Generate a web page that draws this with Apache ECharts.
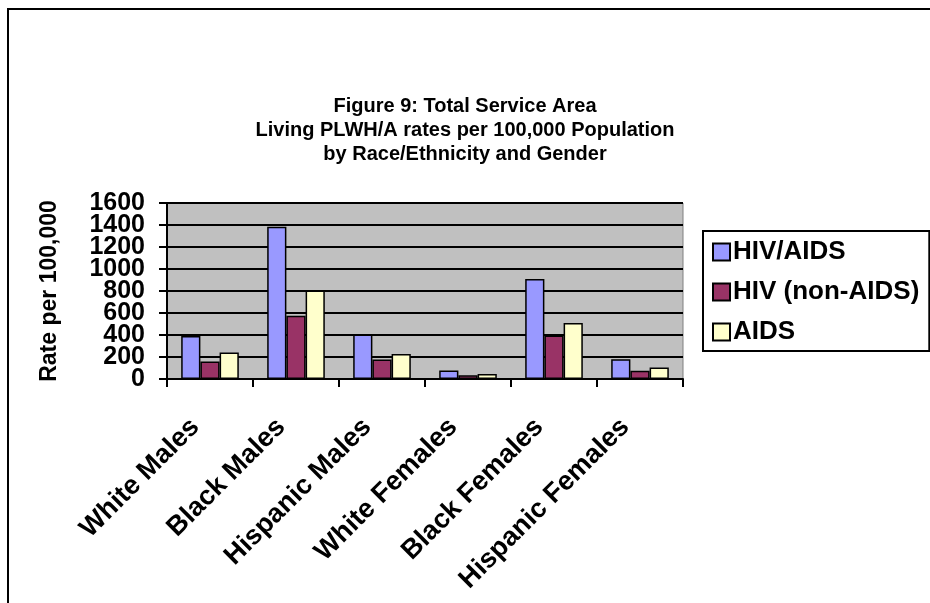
<!DOCTYPE html>
<html>
<head>
<meta charset="utf-8">
<script src="https://cdn.jsdelivr.net/npm/echarts@6/dist/echarts.min.js"></script>
<style>
html,body{margin:0;padding:0;background:#fff;}
#chart{width:930px;height:603px;}
</style>
</head>
<body>
<div id="chart"></div>
<script>
var categories = ['White Males', 'Black Males', 'Hispanic Males', 'White Females', 'Black Females', 'Hispanic Females'];
var seriesNames = ['HIV/AIDS', 'HIV (non-AIDS)', 'AIDS'];
var hivAids = [390, 1385, 405, 78, 910, 180];
var hivNonAids = [158, 575, 178, 33, 395, 75];
var aids = [240, 805, 228, 45, 508, 105];
var yTicks = [0, 200, 400, 600, 800, 1000, 1200, 1400, 1600];

var FONT = "'Liberation Sans', Arial, sans-serif";
var colors = ['#9999FF', '#993366', '#FFFFCC'];
var values = [hivAids, hivNonAids, aids];

// Tick labels are split across two overlaid axes (even / odd steps) so
// that the crowded labels are not dropped by overlap hiding.
function tickLabel(parity) {
  return function (v) {
    var idx = yTicks.indexOf(v);
    return (idx >= 0 && idx % 2 === parity) ? String(v) : '';
  };
}
var yLabelStyle = {
  margin: 22,
  showMinLabel: true, showMaxLabel: true, hideOverlap: false,
  fontFamily: FONT, fontWeight: 'bold', fontSize: 25, color: '#000'
};

var chart = echarts.init(document.getElementById('chart'), null, {renderer: 'canvas'});
chart.setOption({
  animation: false,
  backgroundColor: '#ffffff',
  title: {
    text: 'Figure 9: Total Service Area\nLiving PLWH/A rates per 100,000 Population\nby Race/Ethnicity and Gender',
    left: 'center',
    top: 89,
    textStyle: {fontFamily: FONT, fontWeight: 'bold', fontSize: 20, lineHeight: 24, color: '#000', align: 'center'}
  },
  graphic: [{
    type: 'rect',
    shape: {x: 8, y: 9, width: 960, height: 640},
    style: {fill: 'none', stroke: '#000', lineWidth: 2},
    silent: true
  }],
  legend: {
    orient: 'vertical',
    left: 703,
    top: 231,
    padding: [8, 10, 6, 9],
    itemWidth: 17,
    itemHeight: 17,
    itemGap: 14,
    icon: 'rect',
    borderColor: '#000',
    borderWidth: 2,
    backgroundColor: '#fff',
    textStyle: {fontFamily: FONT, fontWeight: 'bold', fontSize: 26, lineHeight: 26, color: '#000', padding: [0, 0, 0, -2]},
    data: seriesNames
  },
  grid: {
    left: 167, top: 203, width: 516, height: 176,
    show: true, backgroundColor: '#C0C0C0', borderColor: '#808080', borderWidth: 1,
    containLabel: false
  },
  xAxis: {
    type: 'category',
    data: categories,
    axisLine: {lineStyle: {color: '#000', width: 2}},
    axisTick: {show: true, length: 8, lineStyle: {color: '#000', width: 2}},
    axisLabel: {
      interval: 0, rotate: 45, margin: 29,
      fontFamily: FONT, fontWeight: 'bold', fontSize: 27, color: '#000',
      formatter: function (v) { return '{a|' + v + '}'; },
      rich: {a: {fontFamily: FONT, fontWeight: 'bold', fontSize: 27, color: '#000', padding: [0, 21, 0, 0]}}
    },
    splitLine: {show: false}
  },
  yAxis: [{
    type: 'value',
    min: 0, max: 1600, interval: 200,
    name: 'Rate per 100,000',
    nameLocation: 'middle',
    nameRotate: 90,
    nameGap: 106,
    nameTextStyle: {fontFamily: FONT, fontWeight: 'bold', fontSize: 23, color: '#000'},
    axisLine: {show: true, lineStyle: {color: '#000', width: 2}},
    axisTick: {show: true, length: 8, lineStyle: {color: '#000', width: 2}},
    axisLabel: Object.assign({formatter: tickLabel(0)}, yLabelStyle),
    splitLine: {show: true, lineStyle: {color: '#000', width: 2}}
  }, {
    type: 'value',
    position: 'left',
    offset: 0,
    min: 0, max: 1600, interval: 200,
    axisLine: {show: false},
    axisTick: {show: false},
    axisLabel: Object.assign({formatter: tickLabel(1)}, yLabelStyle),
    splitLine: {show: false}
  }],
  series: seriesNames.map(function (name, i) {
    return {
      name: name,
      type: 'bar',
      yAxisIndex: 0,
      data: values[i],
      barGap: '0%',
      barCategoryGap: '33%',
      itemStyle: {color: colors[i], borderColor: '#000', borderWidth: 1.5}
    };
  })
});
</script>
</body>
</html>
